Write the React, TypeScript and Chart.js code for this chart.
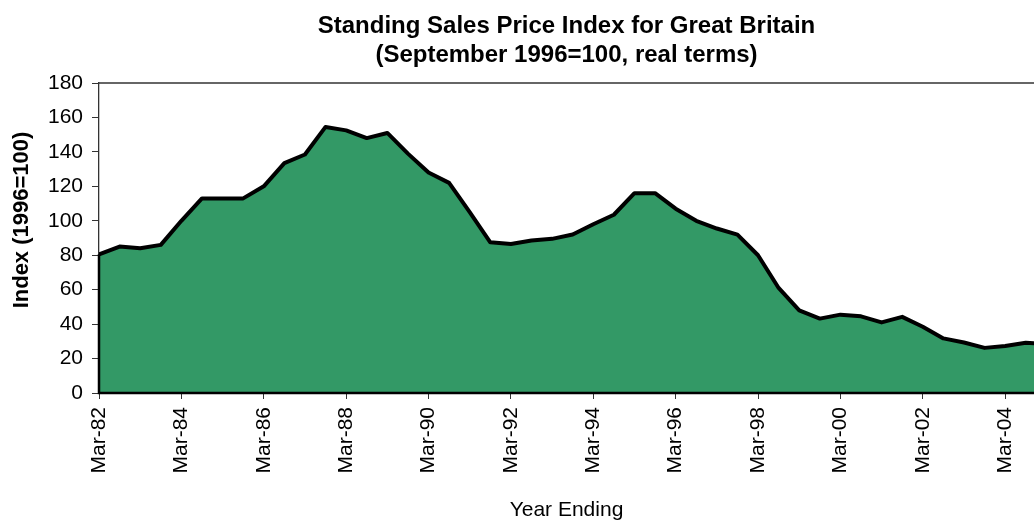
import React, { useEffect, useRef } from "react";
import { Chart, registerables } from "chart.js";

Chart.register(...registerables);

const titleLines = ["Standing Sales Price Index for Great Britain", "(September 1996=100, real terms)"];
const yAxisTitle = "Index (1996=100)";
const xAxisTitle = "Year Ending";

const categories = [
  "Mar-82", "Sep-82", "Mar-83", "Sep-83", "Mar-84", "Sep-84", "Mar-85", "Sep-85",
  "Mar-86", "Sep-86", "Mar-87", "Sep-87", "Mar-88", "Sep-88", "Mar-89", "Sep-89",
  "Mar-90", "Sep-90", "Mar-91", "Sep-91", "Mar-92", "Sep-92", "Mar-93", "Sep-93",
  "Mar-94", "Sep-94", "Mar-95", "Sep-95", "Mar-96", "Sep-96", "Mar-97", "Sep-97",
  "Mar-98", "Sep-98", "Mar-99", "Sep-99", "Mar-00", "Sep-00", "Mar-01", "Sep-01",
  "Mar-02", "Sep-02", "Mar-03", "Sep-03", "Mar-04", "Sep-04", "Mar-05",
];

const indexValues = [
  80.5, 85, 84, 86, 100, 113, 113, 113,
  120, 133.5, 138.5, 154.5, 152.5, 148, 151, 139,
  128, 122, 105, 87.5, 86.5, 88.5, 89.5, 92,
  98, 103.5, 116, 116, 107, 100, 95.5, 92,
  80, 61, 48, 43.2, 45.5, 44.5, 41, 44.2,
  38.5, 31.7, 29.3, 26.2, 27.3, 29.2, 28.5,
];

const xVisibleMax = 45.4;
const labelEvery = 4;
const yMin = 0;
const yMax = 180;
const yStep = 20;

const FONT = "'Liberation Sans', Arial, Helvetica, sans-serif";

export default function App() {
  const canvasRef = useRef<HTMLCanvasElement | null>(null);

  useEffect(() => {
    const canvas = canvasRef.current;
    if (!canvas) return;

    const decorPlugin = {
      id: "decor",
      beforeDatasetsDraw(chart: any) {
        const { ctx, chartArea } = chart;
        ctx.save();
        ctx.strokeStyle = "#333";
        ctx.lineWidth = 1.3;
        ctx.beginPath();
        ctx.moveTo(chartArea.left, chartArea.top);
        ctx.lineTo(chartArea.right + 2, chartArea.top);
        ctx.stroke();
        ctx.restore();
      },
      afterDatasetsDraw(chart: any) {
        const { ctx, chartArea, scales } = chart;
        const y0 = scales.y.getPixelForValue(indexValues[0]);
        ctx.save();
        ctx.strokeStyle = "#000";
        ctx.lineWidth = 2.5;
        ctx.beginPath();
        ctx.moveTo(chartArea.left, y0);
        ctx.lineTo(chartArea.left, chartArea.bottom);
        ctx.lineTo(chartArea.right + 2, chartArea.bottom);
        ctx.stroke();
        ctx.restore();
      },
      afterDraw(chart: any) {
        const { ctx, chartArea } = chart;
        const cx = (chartArea.left + chartArea.right) / 2;
        ctx.save();
        ctx.fillStyle = "#000";
        ctx.textAlign = "center";
        ctx.textBaseline = "alphabetic";
        ctx.font = `bold 24px ${FONT}`;
        ctx.fillText(titleLines[0], cx, 33);
        ctx.fillText(titleLines[1], cx, 62);
        ctx.font = `21px ${FONT}`;
        ctx.fillText(xAxisTitle, cx, 516);
        ctx.translate(22, 220);
        ctx.rotate(-Math.PI / 2);
        ctx.textBaseline = "middle";
        ctx.font = `bold 22px ${FONT}`;
        ctx.fillText(yAxisTitle, 0, 0);
        ctx.restore();
      },
    };

    const chart = new Chart(canvas, {
      type: "line",
      data: {
        datasets: [
          {
            label: "Index",
            data: indexValues.map((v, i) => ({ x: i, y: v })),
            borderColor: "#000",
            borderWidth: 4,
            backgroundColor: "#339966",
            fill: "origin",
            tension: 0,
            pointRadius: 0,
            pointHoverRadius: 0,
            borderJoinStyle: "round",
          },
        ],
      },
      options: {
        responsive: false,
        animation: false,
        events: [],
        layout: { padding: { left: 0, right: 0, top: 83, bottom: 0 } },
        plugins: {
          legend: { display: false },
          title: { display: false },
          tooltip: { enabled: false },
        },
        scales: {
          x: {
            type: "linear",
            min: 0,
            max: xVisibleMax,
            border: { display: false },
            grid: {
              display: true,
              drawOnChartArea: false,
              drawTicks: true,
              tickLength: 6,
              tickColor: "#333",
              color: "#333",
              lineWidth: 1,
            },
            ticks: {
              stepSize: labelEvery,
              includeBounds: false,
              autoSkip: false,
              maxRotation: 90,
              minRotation: 90,
              padding: 8,
              color: "#000",
              font: { family: FONT, size: 21 },
              callback: (v: any) => {
                const i = Math.round(Number(v));
                return i % labelEvery === 0 && categories[i] ? categories[i] : "";
              },
            },
            afterFit: (scale: any) => {
              scale.height = 128;
              scale.paddingLeft = 0;
              scale.paddingRight = 0;
            },
          },
          y: {
            min: yMin,
            max: yMax,
            border: { display: true, color: "#333", width: 1.3 },
            grid: {
              display: true,
              drawOnChartArea: false,
              drawTicks: true,
              tickLength: 7,
              tickColor: "#333",
              color: "#333",
            },
            ticks: {
              stepSize: yStep,
              padding: 9,
              color: "#000",
              font: { family: FONT, size: 21 },
            },
            afterFit: (scale: any) => {
              scale.width = 99;
              scale.paddingTop = 0;
              scale.paddingBottom = 0;
            },
          },
        },
      },
      plugins: [decorPlugin],
    } as any);

    return () => chart.destroy();
  }, []);

  return (
    <div style={{ position: "absolute", left: 0, top: 0, width: 1034, height: 521, overflow: "hidden", background: "#fff" }}>
      <canvas ref={canvasRef} width={1034} height={521} style={{ display: "block" }} />
    </div>
  );
}
